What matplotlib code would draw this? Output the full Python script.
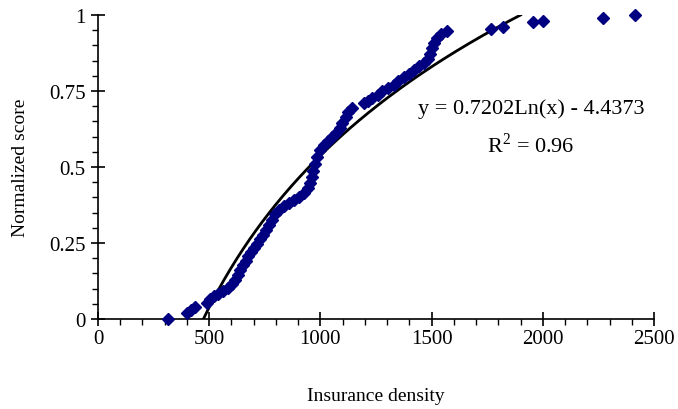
import numpy as np
import matplotlib.pyplot as plt
from matplotlib.ticker import MultipleLocator

plt.rcParams['font.family'] = ['Liberation Serif', 'DejaVu Serif']
plt.rcParams['mathtext.fontset'] = 'custom'
plt.rcParams['mathtext.rm'] = 'Liberation Serif'

# insurance density vs normalized score
density = [315, 401, 419, 437, 491, 505, 523, 541, 563, 586,
           604, 617, 631, 640, 653, 667, 676, 689, 703, 716,
           730, 743, 757, 770, 784, 797, 815, 838, 860, 883,
           905, 928, 946, 955, 964, 969, 978, 987, 1000, 1018,
           1036, 1054, 1072, 1086, 1099, 1113, 1126, 1144, 1194, 1212,
           1234, 1257, 1279, 1302, 1329, 1351, 1374, 1397, 1419, 1442,
           1464, 1482, 1491, 1500, 1509, 1523, 1541, 1568, 1766, 1820,
           1955, 2000, 2270, 2415]
score = [0.000, 0.020, 0.030, 0.039, 0.053, 0.066, 0.076, 0.082, 0.092, 0.102,
         0.115, 0.128, 0.145, 0.161, 0.178, 0.191, 0.207, 0.220, 0.234, 0.247,
         0.263, 0.276, 0.293, 0.309, 0.326, 0.345, 0.359, 0.372, 0.382, 0.391,
         0.401, 0.414, 0.431, 0.447, 0.467, 0.487, 0.510, 0.533, 0.556, 0.572,
         0.586, 0.599, 0.612, 0.628, 0.645, 0.664, 0.681, 0.694, 0.711, 0.717,
         0.727, 0.737, 0.750, 0.760, 0.770, 0.783, 0.796, 0.806, 0.819, 0.832,
         0.842, 0.855, 0.872, 0.891, 0.908, 0.924, 0.938, 0.947, 0.954, 0.961,
         0.977, 0.980, 0.990, 1.000]

# log trendline as printed on the chart
coef_a = 0.7202
coef_b = -4.4373
r2 = 0.96

fig = plt.figure(figsize=(6.78, 4.10), dpi=100)
ax = fig.add_axes([0.1445, 0.2195, 0.8201, 0.7415])

ax.plot(density, score, linestyle='none', marker='D', markersize=6.3,
        color='#000080', clip_on=False, zorder=3)

x_fit = np.linspace(np.exp(-coef_b / coef_a), np.exp((1 - coef_b) / coef_a), 200)
ax.plot(x_fit, coef_a * np.log(x_fit) + coef_b, color='black', linewidth=2.0, zorder=2)

ax.set_xlim(0, 2500)
ax.set_ylim(0, 1)
ax.xaxis.set_major_locator(MultipleLocator(500))
ax.xaxis.set_minor_locator(MultipleLocator(100))
ax.yaxis.set_major_locator(MultipleLocator(0.25))
ax.yaxis.set_minor_locator(MultipleLocator(0.05))
ax.set_yticks([0, 0.25, 0.5, 0.75, 1])
ax.set_yticklabels(['0', '0.25', '0.5', '0.75', '1'])

for side in ['top', 'right']:
    ax.spines[side].set_visible(False)
for side in ['left', 'bottom']:
    ax.spines[side].set_linewidth(1.2)

ax.tick_params(which='major', direction='inout', length=10, width=1.2, labelsize=15)
ax.tick_params(axis='y', which='major', pad=4)
ax.tick_params(axis='x', which='major', pad=2)
ax.tick_params(which='minor', direction='out', length=4, width=1.0)

ax.set_xlabel('Insurance density', fontsize=14, labelpad=28)
ax.set_ylabel('Normalized score', fontsize=14, labelpad=14)

ax.text(1950, 0.695, 'y = 0.7202Ln(x) - 4.4373', fontsize=16, ha='center', va='center')
ax.text(1945, 0.575, 'R$^2$ = %.2f' % r2, fontsize=16, ha='center', va='center')

fig.savefig('out.png', dpi=100)
